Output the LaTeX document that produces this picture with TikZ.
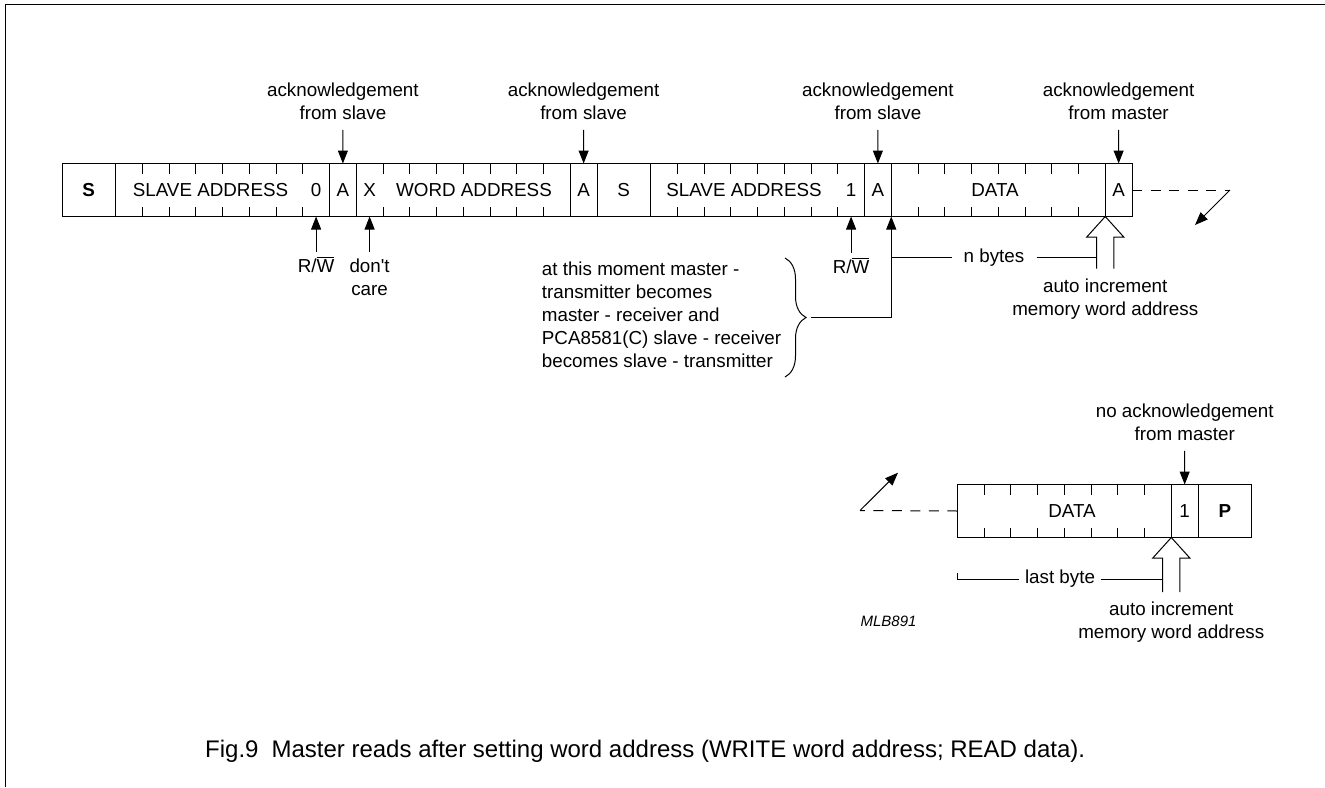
\documentclass[tikz,border=0pt]{standalone}
\usepackage{fontspec}
\setmainfont{Liberation Sans}
\usetikzlibrary{arrows.meta,calc,decorations.pathreplacing}
\newcommand\ml[1]{\begin{tabular}[t]{@{}c@{}}#1\end{tabular}}
\newcommand\ovl[1]{$\overline{\hbox{#1}}$}
\begin{document}
\begin{tikzpicture}[x=1pt,y=-1pt,
  every node/.style={font=\fontsize{18.8}{23}\selectfont},
  field/.style={draw,line width=1pt,inner sep=0,outer sep=0,minimum height=53pt,anchor=north west},
  fl/.style={anchor=base,inner sep=0},
  lbl/.style={inner sep=0,outer sep=4pt},
  arr/.style={line width=1pt,-{Triangle[length=13pt,width=10pt]}},
  thin/.style={line width=1pt},
  dsh/.style={line width=1pt,dash pattern=on 10pt off 8.5pt},
  pics/hollow/.style={code={\draw[thin] (-8.6,#1) -- (-8.6,20.5) coordinate (-l) -- (-18.5,20.5) -- (0,0) -- (18.5,20.5) -- (8.6,20.5) -- (8.6,#1);}},
]
\useasboundingbox (0,0) rectangle (1325,787);
% frame
\draw[line width=1.5pt] (5.5,787) -- (5.5,4.5) -- (1325,4.5);

% top row
\node[field,minimum width=53.5pt]  (s1)  at (62,163.5) {};
\node[field,minimum width=214pt]   (sa1) at (115.5,163.5) {};
\node[field,minimum width=26.75pt] (a1)  at (329.5,163.5) {};
\node[field,minimum width=214pt]   (wa)  at (356.25,163.5) {};
\node[field,minimum width=26.75pt] (a2)  at (570.25,163.5) {};
\node[field,minimum width=53.5pt]  (s2)  at (597,163.5) {};
\node[field,minimum width=214pt]   (sa2) at (650.5,163.5) {};
\node[field,minimum width=26.75pt] (a3)  at (864.5,163.5) {};
\node[field,minimum width=214pt]   (d1)  at (891.25,163.5) {};
\node[field,minimum width=26.75pt] (a4)  at (1105.25,163.5) {};

% bottom row
\node[field,minimum width=214pt]   (d2) at (957.3,484.5) {};
\node[field,minimum width=26.75pt] (b1) at (1171.3,484.5) {};
\node[field,minimum width=53.5pt]  (p1) at (1198.05,484.5) {};

% ticks
\foreach \f in {sa1,wa,sa2,d1,d2} {
  \foreach \i in {1,...,7} {
    \draw[thin] ($(\f.north west)!\i/8!(\f.north east)$) -- ++(0,10);
    \draw[thin] ($(\f.south west)!\i/8!(\f.south east)$) -- ++(0,-10);
  }
}

% field texts
\node[fl] (t1) at (88.75,196.7) {\bfseries S};
\node[fl] (t2) at (210.5,196.7) {SLAVE ADDRESS};
\node[fl] (t3) at (316.1,196.7) {0};
\node[fl] (t4) at (342.9,196.7) {A};
\node[fl] (t5) at (369.6,196.7) {X};
\node[fl] (t6) at (474,196.7) {WORD ADDRESS};
\node[fl] (t7) at (583.6,196.7) {A};
\node[fl] (t8) at (623.75,196.7) {S};
\node[fl] (t9) at (744,196.7) {SLAVE ADDRESS};
\node[fl] (t10) at (851.1,196.7) {1};
\node[fl] (t11) at (877.9,196.7) {A};
\node[fl] (t12) at (995,196.7) {DATA};
\node[fl] (t13) at (1118.6,196.7) {A};
\node[fl] (t14) at (1072,517.7) {DATA};
\node[fl] (t15) at (1184.7,517.7) {1};
\node[fl] (t16) at (1224.8,517.7) {\bfseries P};

% acknowledgements
\node[lbl,anchor=base] (k1) at (342.9,96) {\ml{acknowledgement\\from slave}};
\node[lbl,anchor=base] (k2) at (583.6,96) {\ml{acknowledgement\\from slave}};
\node[lbl,anchor=base] (k3) at (877.9,96) {\ml{acknowledgement\\from slave}};
\node[lbl,anchor=base] (k4) at (1118.6,96) {\ml{acknowledgement\\from master}};
\node[lbl,anchor=base] (k5) at (1184.7,417) {\ml{no acknowledgement\\from master}};
\draw[arr] (k1) -- (a1.north);
\draw[arr] (k2) -- (a2.north);
\draw[arr] (k3) -- (a3.north);
\draw[arr] (k4) -- (a4.north);
\draw[arr] (k5) -- (b1.north);

% lower labels
\node[lbl,anchor=base] (rw1) at (316.1,272) {\ml{R/\ovl{W}}};
\node[lbl,anchor=base] (dc)  at (369.6,272) {\ml{don\textquotesingle t\\care}};
\node[lbl,anchor=base] (rw2) at (851.1,273) {\ml{R/\ovl{W}}};
\draw[arr] (rw1) -- (rw1 |- sa1.south);
\draw[arr] (dc) -- (dc |- wa.south);
\draw[arr] (rw2) -- (rw2 |- sa2.south);

% note with brace
\node[anchor=base west,inner sep=0] (note) at (541.7,275) {\begin{tabular}[t]{@{}l@{}}at this moment master -\\transmitter becomes\\master - receiver and\\PCA8581(C) slave - receiver\\becomes slave - transmitter\end{tabular}};
\draw[thin,decorate,decoration={brace,amplitude=21pt}] (785,258) -- (785,377);
\coordinate (bt) at (811,317.5);
\draw[arr] (bt) -| (d1.south west);

% hollow arrows
\pic (h1) at (a4.south west) {hollow=52};
\pic (h2) at (b1.south west) {hollow=54.5};

% n bytes
\node[inner xsep=12pt,inner ysep=0] (nb) at (994,257.5) {n bytes};
\draw[thin] (nb.west) -- (nb.west -| d1.south west);
\draw[thin] (nb.east) -- (nb.east -| h1-l);

% last byte
\coordinate (lb) at (957.3,573);
\node[inner xsep=5.5pt,inner ysep=0] (lby) at (1060,579) {last byte};
\draw[thin] (lb) |- (lby.west);
\draw[thin] (lby.east) -- (lby.east -| h2-l);

% auto increment labels
\node[lbl,anchor=base] (ai1) at (1105.25,292) {\ml{auto increment\\memory word address}};
\node[lbl,anchor=base] (ai2) at (1171.3,615) {\ml{auto increment\\memory word address}};

% continuation arrows
\coordinate (dt) at (1230,190);
\coordinate (dt2) at (1195,225);
\draw[dsh] (a4.east) -- (dt);
\draw[arr] (dt) -- (dt2);
\coordinate (db) at (860,510.5);
\coordinate (db2) at (898,472.7);
\draw[dsh] (d2.west) -- (db);
\draw[arr] (db) -- (db2);

% id and caption
\node[anchor=base,font=\fontsize{15}{18}\selectfont\itshape] (mlb) at (888.5,626) {MLB891};
\node[anchor=base west,inner sep=0,font=\fontsize{24}{28}\selectfont] (cap) at (205,757.3) {Fig.9\hspace{13pt}Master reads after setting word address (WRITE word address; READ data).};
\end{tikzpicture}
\end{document}
